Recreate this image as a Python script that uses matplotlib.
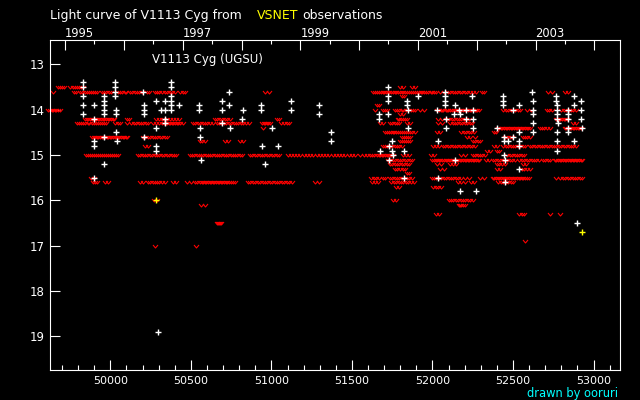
import matplotlib
matplotlib.use('Agg')
import matplotlib.pyplot as plt
from matplotlib.ticker import MultipleLocator, NullLocator, FixedLocator
from matplotlib.transforms import blended_transform_factory

# ---------------- data (JD - 2400000, visual magnitude) ----------------
# positive visual detections (white +)
det_jd = [49832, 49832, 49832, 49832, 49832,
          49900, 49900, 49900, 49900, 49900,
          49962, 49962, 49962, 49962, 49962, 49962, 49962,
          50031, 50031, 50031, 50031, 50037, 50037, 50037, 50043,
          50204, 50211, 50211, 50211, 50211,
          50285, 50285, 50285, 50285, 50298, 50316,
          50341, 50341, 50341, 50341,
          50378, 50378, 50378, 50378, 50378, 50378, 50428,
          50552, 50552, 50558, 50558, 50565,
          50695, 50695, 50695, 50735, 50735, 50745, 50819, 50825,
          50937, 50937, 50943, 50962, 51005, 51043,
          51121, 51121, 51295, 51295, 51370, 51370,
          51670, 51670, 51676, 51726, 51726, 51726, 51726, 51732, 51732,
          51750, 51750, 51757, 51825, 51825, 51843, 51843, 51850, 51850, 51912,
          52030, 52036, 52036, 52079, 52079, 52079, 52079, 52086, 52086,
          52135, 52141, 52141, 52166, 52172, 52172, 52210, 52210,
          52247, 52253, 52253, 52253, 52272,
          52402, 52439, 52439, 52439, 52446, 52446, 52446, 52452, 52452, 52470,
          52501, 52501, 52539, 52539, 52539, 52539, 52539,
          52620, 52626, 52626, 52626, 52626, 52626,
          52768, 52768, 52775, 52775, 52775, 52775, 52775, 52775, 52775, 52781,
          52843, 52843, 52843, 52843, 52843, 52880, 52880, 52880, 52897,
          52924, 52924, 52924, 52930]
det_mag = [13.4, 13.5, 13.7, 13.9, 14.1,
           13.9, 14.2, 14.7, 14.8, 15.5,
           13.7, 13.8, 13.9, 14.0, 14.1, 14.6, 15.2,
           13.4, 13.5, 13.6, 13.7, 14.0, 14.1, 14.5, 14.7,
           13.6, 13.9, 14.0, 14.1, 14.6,
           13.8, 14.4, 14.8, 14.9, 18.9, 14.0,
           13.8, 14.0, 14.2, 14.3,
           13.4, 13.5, 13.7, 13.8, 13.9, 14.0, 13.9,
           13.9, 14.0, 14.4, 14.6, 15.1,
           13.8, 14.0, 14.3, 13.6, 13.9, 14.4, 14.2, 14.0,
           13.9, 14.0, 14.8, 15.2, 14.4, 14.8,
           13.8, 14.0, 13.9, 14.1, 14.5, 14.7,
           14.1, 14.2, 14.9, 13.5, 13.7, 13.8, 14.1, 14.8, 15.1,
           14.7, 14.9, 15.0, 14.9, 15.5, 13.8, 13.9, 14.0, 14.4, 13.7,
           14.0, 14.7, 15.5, 13.6, 13.7, 13.8, 13.9, 14.2, 14.4,
           14.1, 13.9, 15.1, 14.0, 14.1, 15.8, 14.0, 14.2,
           13.7, 14.0, 14.2, 14.4, 15.8,
           14.4, 13.7, 13.8, 13.9, 14.6, 14.7, 15.0, 15.1, 15.6, 14.7,
           14.0, 14.6, 13.9, 14.5, 14.7, 14.8, 15.3,
           13.6, 13.8, 14.0, 14.1, 14.3, 14.5,
           13.7, 13.8, 13.9, 14.0, 14.1, 14.2, 14.5, 14.7, 14.9, 14.3,
           14.0, 14.1, 14.2, 14.4, 14.5, 13.7, 13.9, 14.7, 16.5,
           13.8, 14.0, 14.2, 14.4]

# other-source detections (yellow +)
ccd_jd = [50283, 52928]
ccd_mag = [16.0, 16.7]

# "fainter than" upper limits (red v), one list of JD per magnitude level
ul_13_5 = [49675, 49688, 49700, 49712, 49752, 49765, 49778, 49790, 49803, 49816, 49828,
           51800, 51820, 51875, 51890]
ul_13_6 = [49644, 49774, 49786, 49810, 49825, 49840, 49852, 49866, 49880, 49893, 49905, 49920,
           49948, 49960, 49975, 49990, 50005, 50047, 50060, 50075, 50090, 50100,
           50122, 50135, 50150, 50165, 50180, 50195, 50228, 50242,
           50277, 50290, 50305, 50320, 50337, 50350, 50370, 50385, 50400,
           50432, 50450, 50465, 50960, 50985,
           51630, 51645, 51655, 51668, 51680, 51690, 51700, 51712, 51722, 51733, 51745,
           51755, 51765, 51776, 51787, 51798, 51808, 51820, 51832, 51843, 51855, 51866,
           51878, 51890, 51902, 51914, 51926, 51938, 51950, 51962, 51975, 51988, 52000,
           52012, 52025, 52046, 52070, 52095, 52110, 52125, 52140, 52155, 52170, 52185,
           52200, 52215, 52230, 52250, 52270, 52305, 52320, 52720, 52740, 52825, 52840]
ul_13_7 = [51810, 51825]
ul_13_9 = [51655, 51670]
ul_14_0 = [49613, 49625, 49636, 49645, 49655, 49665, 49675, 49690,
           51645, 51690, 51705, 51718, 51768, 51782, 51795, 51808, 51820, 51835, 51850,
           51865, 51880, 51893, 51925, 51945,
           52031, 52039, 52052, 52061, 52068, 52081, 52090, 52099, 52112, 52120, 52131,
           52142, 52150, 52158, 52171, 52180, 52189, 52202, 52211, 52219, 52232, 52240,
           52251, 52262, 52270, 52279, 52291,
           52440, 52455, 52470, 52485, 52500, 52515, 52530, 52545, 52590, 52610,
           52710, 52725, 52745, 52800, 52815, 52830, 52845, 52860, 52875, 52890]
ul_14_1 = [51800, 51815]
ul_14_2 = [49843, 49853, 49864, 49872, 49883, 49894, 49902, 49913, 49924, 49932, 49943,
           49954, 49962, 49973, 49984, 49992, 50003, 50014, 50023, 50102, 50115,
           50283, 50300, 50318, 50335, 50352, 50370, 50388, 50405, 50425,
           50650, 50665, 50680, 50695, 50710, 50725, 50740, 51035, 51050,
           51785, 51795, 51806, 51815, 51829, 51840, 52035, 52060,
           52090, 52105, 52120, 52135, 52150, 52165, 52180, 52195, 52210, 52225,
           52765, 52776, 52784, 52795, 52806, 52815, 52824, 52835]
ul_14_3 = [49792, 49805, 49818, 49830, 49845, 49858, 49870, 49885, 49898, 49910, 49925,
           49938, 49950, 49962, 49975, 50030, 50045, 50060, 50105, 50125,
           50145, 50160, 50175, 50190, 50205, 50220, 50235, 50265, 50285, 50300,
           50322, 50332, 50343, 50352, 50361, 50372, 50383, 50392, 50401, 50412, 50423,
           50435, 50450, 50513, 50528, 50543, 50558, 50573, 50588, 50603, 50618, 50635,
           50660, 50675, 50690, 50705, 50720, 50735, 50750, 50765, 50780, 50795, 50810,
           50825, 50840, 50860, 50940, 50951, 50959, 50970, 50981, 50990,
           51060, 51078, 51095, 51110, 51675, 51695, 51735, 51750, 51765, 51780, 51795,
           51845, 51862, 52035, 52058, 52110, 52125, 52140, 52155, 52170, 52185, 52200,
           52215, 52230, 52245, 52870, 52890]
ul_14_4 = [50945, 52405, 52415, 52426, 52434, 52445, 52456, 52464, 52475, 52486, 52494,
           52505, 52516, 52524, 52535, 52546, 52554, 52565, 52576, 52584, 52595, 52605,
           52665, 52680, 52695, 52710, 52730, 52822, 52832, 52843, 52851, 52862, 52873,
           52881, 52892, 52903, 52912, 52925]
ul_14_5 = [51704, 51716, 51728, 51740, 51752, 51764, 51776, 51788, 51800, 51812, 51824,
           51836, 51848, 51860, 51875, 51890, 52030, 52045, 52180, 52195, 52210, 52225,
           52240, 52260, 52380, 52395]
ul_14_6 = [49886, 49896, 49906, 49916, 49926, 49936, 49946, 49956, 49966, 49976, 49986,
           49996, 50006, 50016, 50026, 50036, 50046, 50056, 50066, 50076, 50086, 50096,
           50106, 50202, 50217, 50232, 50247, 50262, 50277, 50292, 50307, 50322, 50337,
           50350, 51810, 51822, 51835, 51850, 51860, 52215, 52230, 52265,
           52450, 52465, 52480, 52495, 52560, 52575, 52590, 52605]
ul_14_7 = [50556, 50570, 50585, 50711, 50730, 50805, 50825, 51798, 51810, 51822, 51835,
           51850, 51860, 52250, 52265, 52280, 52294]
ul_14_8 = [50218, 50232, 51690, 51705, 51720, 51735, 51750, 51765, 51780, 51795, 51810,
           52005, 52020, 52040, 52065, 52080, 52095, 52110, 52125, 52140, 52155, 52170,
           52185, 52200, 52215, 52230, 52245, 52265, 52385, 52400, 52440, 52455, 52470,
           52485, 52500, 52515, 52530, 52545, 52560, 52575, 52605, 52620, 52635, 52650,
           52665, 52680, 52695, 52710, 52725, 52740, 52755, 52770, 52785, 52800, 52815,
           52830, 52845, 52860, 52875, 52890]
ul_14_9 = [52340, 52355, 52400, 52415]
ul_15_0 = [49849, 49862, 49875, 49888, 49900, 49913, 49925, 49938, 49950, 49963, 49975,
           49988, 50000, 50013, 50025, 50038, 50050, 50171, 50185, 50200, 50215, 50230,
           50245, 50260, 50275, 50290, 50305, 50320, 50335, 50350, 50365, 50380, 50395,
           50410, 50494, 50508, 50522, 50536, 50550, 50564, 50578, 50592, 50606, 50620,
           50634, 50648, 50662, 50676, 50690, 50704, 50718, 50732, 50746, 50760, 50774,
           50788, 50802, 50816, 50867, 50882, 50897, 50912, 50927, 50942, 50957, 50972,
           50987, 51002, 51017, 51032, 51047, 51100, 51120, 51140, 51160, 51180, 51200,
           51220, 51240, 51260, 51280, 51300, 51320, 51340, 51360, 51380, 51400, 51420,
           51440, 51460, 51480, 51500, 51520, 51549, 51575, 51595, 51610, 51625, 51640,
           51655, 51665, 51675, 51685, 51695, 51705, 51715, 51725, 51735, 51745, 51755,
           51815, 51835, 51855, 51990, 52010, 52180, 52200, 52250, 52265, 52280, 52295,
           52310, 52325, 52465, 52480, 52495, 52510, 52525, 52540, 52555, 52570]
ul_15_1 = [51723, 51738, 51753, 51768, 51783, 51798, 51813, 51828, 51843, 51858, 51873,
           52000, 52010, 52021, 52030, 52040, 52049, 52060, 52070, 52081, 52090, 52100,
           52111, 52120, 52130, 52139, 52150, 52160, 52171, 52180, 52190, 52201, 52210,
           52220, 52229, 52240, 52250, 52261, 52270, 52280, 52290, 52330, 52350,
           52375, 52390, 52405, 52420, 52435, 52450, 52465, 52480, 52495, 52510,
           52540, 52555, 52570, 52585, 52600, 52615, 52630, 52645, 52660,
           52685, 52700, 52715, 52730, 52760, 52770, 52781, 52790, 52800, 52811, 52820,
           52830, 52840, 52851, 52860, 52870, 52880, 52891, 52900, 52910, 52920, 52930]
ul_15_2 = [51735, 51750, 51765, 51780, 51795, 51810, 51825, 51840, 51855, 52030, 52050,
           52110, 52130, 52145, 52400, 52415, 52430, 52450, 52565, 52580]
ul_15_3 = [51766, 51782, 51798, 51814, 51830, 52046, 52070, 52400, 52420,
           52555, 52570, 52590, 52605]
ul_15_4 = [51840, 51855]
ul_15_5 = [49880, 49900, 51620, 51635, 51650, 51665, 51690, 51705, 51735, 51750, 51765,
           51780, 51795, 51810, 51825, 51840, 51855, 51870, 51995, 52010, 52025, 52040,
           52055, 52070, 52085, 52100, 52115, 52130, 52145, 52160, 52175, 52200, 52225,
           52295, 52320, 52375, 52385, 52395, 52405, 52415, 52425, 52435, 52445, 52455,
           52465, 52475, 52485, 52495, 52505, 52515, 52525, 52535, 52545, 52555, 52565,
           52575, 52590, 52600, 52765, 52790, 52810, 52825, 52840, 52855, 52870, 52885,
           52900, 52915, 52930]
ul_15_6 = [49890, 49905, 49920, 49965, 49985, 50184, 50205, 50233, 50248, 50262, 50276,
           50290, 50305, 50320, 50340, 50390, 50410, 50475, 50500, 50525, 50540, 50556,
           50566, 50576, 50586, 50596, 50606, 50616, 50626, 50636, 50646, 50656, 50666,
           50676, 50686, 50696, 50706, 50716, 50726, 50736, 50746, 50760, 50775,
           50855, 50870, 50885, 50900, 50915, 50930, 50945, 50960, 50975, 50990, 51005,
           51020, 51035, 51050, 51065, 51080, 51095, 51110, 51125, 51270, 51295,
           51625, 51645, 51660, 51745, 51760, 51775, 51790, 51805, 51820, 51835, 51850,
           51865, 51885, 52160, 52180, 52200, 52240, 52260,
           52410, 52425, 52440, 52455, 52470, 52485, 52500]
ul_15_7 = [51775, 51790, 52005, 52020, 52035, 52050]
ul_16_0 = [50270, 50290, 51757, 51775, 52100, 52115, 52130, 52145, 52160, 52175, 52190,
           52205, 52220, 52235, 52250]
ul_16_1 = [50565, 50585, 52165, 52172, 52180, 52190, 52200]
ul_16_3 = [52020, 52040, 52540, 52555, 52570, 52729, 52790]
ul_16_5 = [50660, 50668, 50675, 50683, 50690]
ul_16_9 = [52575]
ul_17_0 = [50280, 50530]

limit_levels = [13.5, 13.6, 13.7, 13.9, 14.0, 14.1, 14.2, 14.3, 14.4, 14.5, 14.6, 14.7,
                14.8, 14.9, 15.0, 15.1, 15.2, 15.3, 15.4, 15.5, 15.6, 15.7, 16.0, 16.1,
                16.3, 16.5, 16.9, 17.0]
limit_lists = [ul_13_5, ul_13_6, ul_13_7, ul_13_9, ul_14_0, ul_14_1, ul_14_2, ul_14_3,
               ul_14_4, ul_14_5, ul_14_6, ul_14_7, ul_14_8, ul_14_9, ul_15_0, ul_15_1,
               ul_15_2, ul_15_3, ul_15_4, ul_15_5, ul_15_6, ul_15_7, ul_16_0, ul_16_1,
               ul_16_3, ul_16_5, ul_16_9, ul_17_0]

x_ticks = [50000, 50500, 51000, 51500, 52000, 52500, 53000]
y_ticks = [13, 14, 15, 16, 17, 18, 19]
years = [1995, 1996, 1997, 1998, 1999, 2000, 2001, 2002, 2003, 2004]
labelled_years = [1995, 1997, 1999, 2001, 2003]


def jd_jan1(y):
    """JD-2400000 of 0h UT on 1 January (Gregorian)."""
    yy = y + 4799
    mm = 10
    jdn = 1 + (153 * mm + 2) // 5 + 365 * yy + yy // 4 - yy // 100 + yy // 400 - 32045
    return jdn - 0.5 - 2400000


W, H = 640, 400
fig = plt.figure(figsize=(W / 100, H / 100), dpi=100, facecolor='black')
L, R, T, B = 50.3, 620.4, 40.3, 370.0
ax = fig.add_axes([L / W, 1 - B / H, (R - L) / W, (B - T) / H])
ax.set_facecolor('black')
ax.set_xlim(49627, 53167)
ax.set_ylim(19.74, 12.47)

vmark = [(-1.0, 0.6), (0.0, -0.6), (1.0, 0.6)]
for lvl, jds in zip(limit_levels, limit_lists):
    ax.plot(jds, [lvl] * len(jds), ls='none', marker=vmark, ms=3.6,
            mfc='none', mec='#ff0000', mew=0.8, clip_on=False, zorder=2)
ax.plot(det_jd, det_mag, ls='none', marker='+', ms=3.8, mew=1.0,
        color='white', clip_on=False, zorder=3)
ax.plot(ccd_jd, ccd_mag, ls='none', marker='+', ms=3.8, mew=1.0,
        color='#ffff00', clip_on=False, zorder=4)

for s in ax.spines.values():
    s.set_color('white')
    s.set_linewidth(0.8)

ax.xaxis.set_major_locator(FixedLocator(x_ticks))
ax.xaxis.set_minor_locator(MultipleLocator(100))
ax.set_xticklabels([str(v) for v in x_ticks])
ax.tick_params(axis='x', which='major', direction='in', length=7.2, width=0.8,
               colors='white', labelsize=8, pad=4)
ax.tick_params(axis='x', which='minor', direction='in', length=3.6, width=0.8,
               colors='white')
ax.yaxis.set_major_locator(FixedLocator(y_ticks))
ax.yaxis.set_minor_locator(NullLocator())
ax.set_yticklabels([str(v) for v in y_ticks])
ax.tick_params(axis='y', which='major', direction='in', length=7.2, width=0.8,
               colors='white', labelsize=8.5, pad=4)

# top axis: calendar years
ax2 = ax.twiny()
ax2.set_xlim(ax.get_xlim())
year_jd = [jd_jan1(y) for y in years]
ax2.xaxis.set_major_locator(FixedLocator(year_jd))
ax2.xaxis.set_minor_locator(FixedLocator([j + 182 for j in year_jd]))
ax2.tick_params(axis='x', which='major', direction='in', length=7.2, width=0.8,
                colors='white', labeltop=False)
ax2.tick_params(axis='x', which='minor', direction='in', length=3.0, width=0.8,
                colors='white')
for s in ax2.spines.values():
    s.set_visible(False)

tr = blended_transform_factory(ax.transData, fig.transFigure)
for y in labelled_years:
    ax.text(jd_jan1(y), 1 - 33.5 / H, str(y), transform=tr, ha='left', va='center',
            color='white', fontsize=8.3, clip_on=False)

fig.text(50.2 / W, 1 - 15.3 / H, 'Light curve of V1113 Cyg from', color='white',
         fontsize=9, ha='left', va='center')
fig.text(257 / W, 1 - 15.3 / H, 'VSNET', color='#ffff00', fontsize=9,
         ha='left', va='center')
fig.text(302 / W, 1 - 15.3 / H, 'observations', color='white', fontsize=9,
         ha='left', va='center')
fig.text(152 / W, 1 - 60 / H, 'V1113 Cyg (UGSU)', color='white', fontsize=8.5,
         ha='left', va='center')
fig.text(618 / W, 1 - 393.5 / H, 'drawn by ooruri', color='#00ffff', fontsize=8.3,
         ha='right', va='center')

fig.savefig('out.png', dpi=100, facecolor='black')
